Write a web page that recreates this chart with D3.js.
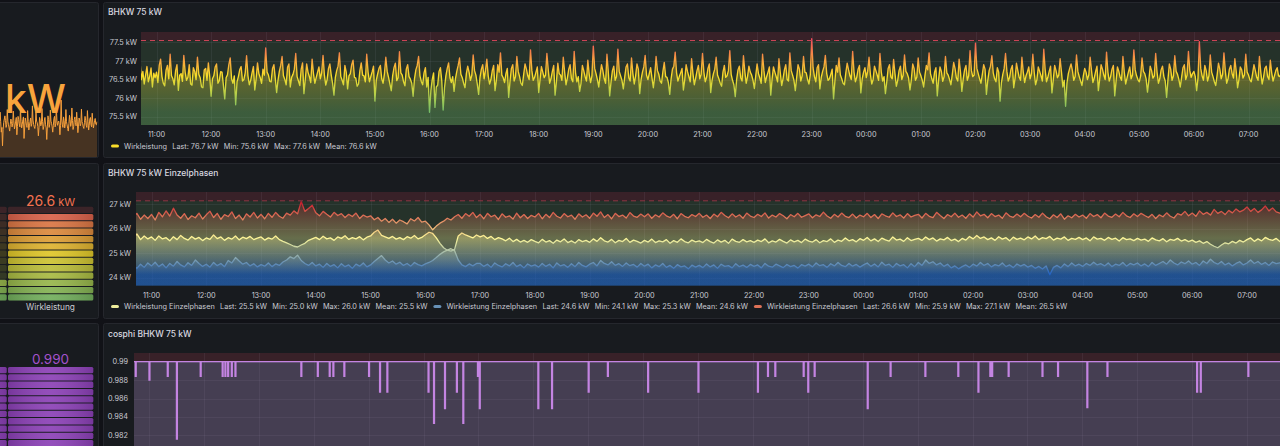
<!DOCTYPE html>
<html><head><meta charset="utf-8">
<script src="https://cdn.jsdelivr.net/npm/d3@7"></script>
<style>
html,body{margin:0;padding:0;background:#111217;overflow:hidden}
svg{display:block}
</style></head><body>
<svg id="c" width="1280" height="446"></svg>
<script>
// ---------------- DATA ----------------
const timeTicks = ["11:00","12:00","13:00","14:00","15:00","16:00","17:00","18:00","19:00","20:00","21:00","22:00","23:00","00:00","01:00","02:00","03:00","04:00","05:00","06:00","07:00"];

// Panel 1: BHKW 75 kW, Wirkleistung, samples every 1.5 min from 10:42
const p1Start = "10:42", p1StepMin = 1.5;
const p1Values = [
76.95,76.50,76.72,76.38,76.62,76.85,76.44,76.58,76.81,76.30,76.67,76.55,
76.70,76.42,76.88,77.05,76.58,76.40,76.33,76.75,76.88,76.52,77.18,76.60,76.52,76.36,76.74,76.90,76.21,76.62,76.66,76.45,
77.15,76.70,76.48,76.56,76.90,76.38,76.35,76.82,76.72,76.50,77.10,76.64,76.55,76.30,76.28,76.76,76.80,76.48,76.95,76.58,
76.05,76.52,76.60,76.84,76.92,76.40,76.47,76.71,76.70,76.35,75.98,76.55,76.63,76.90,77.08,76.52,76.40,76.60,75.82,76.44,
76.58,76.77,76.85,76.46,76.50,76.68,77.14,76.60,76.36,76.48,76.68,76.85,76.22,76.52,76.95,76.66,76.55,76.40,76.78,76.62,
77.35,76.70,76.62,76.45,76.44,76.80,76.90,76.54,76.15,76.48,76.72,76.88,77.12,76.60,76.50,76.36,76.83,76.92,76.30,76.56,
76.64,76.78,77.20,76.58,76.46,76.34,76.78,76.95,76.12,76.50,76.92,76.70,76.58,76.42,77.05,76.66,76.40,76.55,76.70,76.84,
76.52,76.68,77.15,76.62,76.35,76.50,76.80,76.92,76.62,76.40,76.08,76.55,76.74,76.86,77.22,76.58,76.48,76.36,76.88,76.70,
76.25,76.60,76.66,76.90,77.02,76.56,76.54,76.32,76.38,76.74,76.95,76.62,76.60,76.44,77.18,76.70,76.44,76.58,76.71,76.86,
75.92,76.48,76.65,76.80,76.88,76.52,76.40,76.66,77.10,76.72,76.56,76.38,76.20,76.60,76.82,76.94,76.47,76.55,77.25,76.68,
76.62,76.44,76.33,76.78,76.90,76.58,76.51,76.40,76.05,76.52,76.76,76.88,77.12,76.60,76.45,76.36,76.68,76.82,76.30,76.56,
75.62,76.20,76.50,76.68,75.75,76.30,76.35,76.72,76.82,76.46,75.68,76.28,76.60,76.80,76.95,76.55,76.42,76.58,76.18,76.52,
76.72,76.88,77.08,76.64,76.55,76.40,76.28,76.66,76.86,76.70,76.48,76.62,77.16,76.74,76.62,76.38,76.10,76.56,76.78,76.90,
76.52,76.74,77.05,76.60,76.38,76.50,76.74,76.88,76.20,76.48,76.90,76.70,77.22,76.62,76.55,76.42,76.66,76.80,76.02,76.46,
76.80,76.90,76.46,76.58,77.12,76.72,76.58,76.40,76.34,76.64,76.92,76.78,76.60,76.50,77.30,76.74,76.48,76.56,76.70,76.84,
76.15,76.50,76.85,76.70,76.55,76.62,77.20,76.76,76.40,76.52,76.72,76.88,76.08,76.44,76.94,76.66,76.62,76.48,77.10,76.70,
76.36,76.54,76.78,76.90,76.52,76.44,77.26,76.68,76.44,76.58,76.18,76.40,76.88,76.74,76.58,76.46,77.02,76.64,76.42,76.60,
77.40,76.80,76.66,76.50,76.30,76.62,76.90,76.74,76.52,76.40,77.18,76.70,76.06,76.44,76.74,76.86,76.48,76.58,77.32,76.72,
76.60,76.48,76.25,76.56,76.84,76.92,76.55,76.46,77.08,76.66,76.38,76.60,76.92,76.78,76.12,76.50,76.70,76.84,77.15,76.62,
76.50,76.66,76.82,76.54,76.28,76.60,77.12,76.74,76.64,76.46,76.40,76.72,76.96,76.58,76.56,76.42,76.10,76.52,76.78,76.86,
77.24,76.68,76.46,76.58,76.68,76.80,76.22,76.50,76.90,76.72,76.58,76.44,77.06,76.66,76.36,76.54,76.74,76.88,76.52,76.64,
77.20,76.70,76.44,76.56,76.80,76.92,76.15,76.48,76.66,76.78,77.10,76.62,76.52,76.40,76.32,76.70,76.88,76.56,76.60,76.74,
77.28,76.64,76.48,76.36,76.04,76.50,76.76,76.86,76.55,76.46,77.14,76.72,76.40,76.58,76.86,76.70,76.62,76.48,76.26,76.60,
76.92,76.66,76.54,76.40,77.18,76.74,76.42,76.58,76.70,76.84,76.08,76.52,76.84,76.70,76.58,76.44,77.06,76.68,76.34,76.52,
76.76,76.90,76.50,76.46,77.22,76.74,76.62,76.48,76.20,76.56,76.90,76.78,76.46,76.60,77.12,76.70,76.68,76.50,76.38,76.64,
77.60,76.82,76.58,76.44,76.82,76.90,76.25,76.56,76.72,76.84,77.15,76.66,76.48,76.52,76.64,76.78,75.98,76.46,76.88,76.70,
77.08,76.62,76.52,76.40,76.36,76.68,76.94,76.76,76.60,76.50,77.26,76.70,76.44,76.56,76.78,76.88,76.14,76.52,76.70,76.82,
76.55,76.72,77.10,76.64,76.38,76.50,76.86,76.74,76.62,76.48,77.20,76.70,76.46,76.58,76.12,76.44,76.80,76.90,76.57,76.52,
77.04,76.66,76.32,76.48,76.74,76.86,76.50,76.62,77.16,76.72,76.66,76.54,76.22,76.50,76.92,76.80,76.48,76.56,77.08,76.70,
76.60,76.48,76.30,76.62,76.88,76.76,77.22,76.66,76.52,76.40,76.70,76.82,76.06,76.50,76.84,76.72,76.45,76.58,77.12,76.68,
76.62,76.50,76.36,76.64,76.96,76.80,76.54,76.46,77.05,76.70,76.18,76.52,76.76,76.88,76.48,76.60,77.28,76.74,76.58,76.62,
77.48,76.80,76.66,76.52,76.40,76.64,76.90,76.78,76.10,76.48,76.74,76.86,77.14,76.68,76.52,76.44,76.82,76.70,75.92,76.42,
76.64,76.80,77.20,76.72,76.46,76.56,76.78,76.88,76.28,76.54,76.94,76.74,76.56,76.48,77.10,76.70,76.42,76.60,76.70,76.84,
76.52,76.66,77.18,76.70,76.36,76.50,76.84,76.72,76.60,76.46,77.32,76.78,76.44,76.56,76.72,76.86,76.14,76.50,76.88,76.74,
76.55,76.62,77.06,76.70,76.30,76.48,75.78,76.40,76.66,76.80,76.92,76.74,76.48,76.58,77.16,76.72,76.58,76.46,76.34,76.60,
76.80,76.70,76.50,76.62,77.10,76.74,76.42,76.54,76.72,76.86,76.20,76.52,76.90,76.78,76.62,76.50,77.24,76.70,76.46,76.58,
76.78,76.88,76.06,76.46,76.84,76.72,76.56,76.48,77.12,76.70,76.38,76.54,76.70,76.84,76.52,76.62,77.30,76.76,76.60,76.50,
76.44,76.60,77.08,76.72,76.66,76.52,76.16,76.48,76.86,76.74,76.54,76.60,77.20,76.70,76.40,76.52,76.76,76.86,76.58,76.46,
76.02,76.50,76.92,76.78,76.48,76.60,77.14,76.72,76.64,76.50,76.30,76.56,76.82,76.90,76.50,76.62,77.26,76.74,76.56,76.66,
76.72,76.58,76.20,76.54,77.52,76.80,76.60,76.48,76.88,76.74,76.46,76.60,77.16,76.70,76.58,76.44,76.34,76.62,76.94,76.78,
76.52,76.64,77.22,76.74,76.40,76.52,76.78,76.88,76.66,76.54,77.06,76.72,76.28,76.50,76.84,76.76,76.54,76.62,77.18,76.70,
76.62,76.50,76.44,76.66,76.90,76.74,76.56,76.48,77.12,76.70,76.38,76.56,76.80,76.86,76.58,76.50,77.02,76.68,76.46,76.60,
76.74,76.82,76.60,76.58,76.70];
const p1Names = ["Wirkleistung"];
const p1Last = [76.7], p1Min = [75.6], p1Max = [77.6], p1Mean = [76.6];
const p1YTicks = [75.5, 76, 76.5, 77, 77.5];
const p1Threshold = 77.55;

// Panel 2: BHKW 75 kW Einzelphasen, samples every 4 min from 10:40
const p2Start = "10:40", p2StepMin = 4;
const p2Yellow = [
25.62,25.78,25.55,25.70,25.58,
25.66,25.52,25.70,25.58,25.63,25.50,25.67,25.55,25.72,25.60,25.53,25.68,25.57,25.64,25.51,
25.62,25.56,25.74,25.59,25.66,25.52,25.63,25.57,25.70,25.54,25.65,25.59,25.68,25.55,25.61,
25.66,25.53,25.62,25.57,25.70,25.55,25.48,25.42,25.35,25.28,25.25,25.33,25.40,25.52,25.58,
25.64,25.55,25.69,25.58,25.62,25.52,25.66,25.60,25.71,25.56,25.63,25.58,25.67,25.54,25.65,
25.70,25.85,25.94,25.72,25.66,25.60,25.68,25.57,25.63,25.55,25.67,25.61,25.72,25.58,25.64,
25.75,25.85,25.80,25.62,25.40,25.22,25.12,25.08,25.15,25.70,25.82,25.74,25.68,25.62,25.74,
25.66,25.72,25.60,25.68,25.55,25.63,25.58,25.50,25.61,25.47,25.56,25.45,25.52,25.44,25.55,
25.48,25.42,25.56,25.45,25.51,25.40,25.53,25.46,25.58,25.43,25.50,25.41,25.55,25.47,25.52,
25.44,25.58,25.48,25.63,25.50,25.45,25.56,25.42,25.52,25.47,25.60,25.44,25.53,25.48,25.41,
25.52,25.45,25.57,25.43,25.50,25.46,25.55,25.40,25.51,25.44,25.58,25.47,25.42,25.53,25.46,
25.50,25.43,25.56,25.47,25.41,25.54,25.45,25.52,25.40,25.57,25.48,25.44,25.55,25.46,25.51,
25.44,25.53,25.47,25.58,25.42,25.50,25.45,25.56,25.48,25.41,25.54,25.46,25.52,25.43,25.57,
25.49,25.45,25.55,25.42,25.51,25.47,25.58,25.44,25.53,25.48,25.62,25.50,25.55,25.46,25.59,
25.52,25.64,25.50,25.58,25.47,25.61,25.54,25.49,25.66,25.53,25.57,25.48,25.63,25.51,25.56,
25.60,25.52,25.66,25.55,25.62,25.49,25.58,25.54,25.64,25.51,25.57,25.47,25.60,25.53,25.68,
25.58,25.72,25.60,25.66,25.55,25.62,25.52,25.67,25.57,25.63,25.50,25.65,25.56,25.61,25.54,
25.66,25.58,25.70,25.55,25.63,25.59,25.68,25.53,25.61,25.57,25.66,25.52,25.60,25.56,25.64,
25.55,25.62,25.50,25.66,25.57,25.60,25.52,25.64,25.56,25.61,25.49,25.63,25.55,25.58,25.51,
25.60,25.53,25.57,25.48,25.62,25.54,25.50,25.59,25.46,25.56,25.52,25.60,25.49,25.55,25.47,
25.53,25.44,25.50,25.40,25.47,25.36,25.28,25.22,25.33,25.42,25.38,25.48,25.41,25.52,25.45,
25.55,25.62,25.48,25.58,25.50,25.64,25.56,25.52,25.60,25.47,25.50];
const p2Blue = [
24.52,24.38,24.55,24.42,24.60,
24.48,24.63,24.45,24.56,24.40,24.58,24.47,24.66,24.52,24.44,24.61,24.50,24.72,24.58,24.46,
24.55,24.43,24.62,24.49,24.58,24.45,24.70,24.60,24.82,24.68,24.55,24.62,24.48,24.57,24.44,
24.53,24.47,24.60,24.45,24.56,24.50,24.64,24.72,24.85,24.78,24.92,24.70,24.58,24.50,24.62,
24.48,24.55,24.42,24.58,24.46,24.53,24.40,24.57,24.45,24.52,24.38,24.55,24.47,24.60,24.44,
24.52,24.66,24.78,24.90,24.72,24.60,24.68,24.55,24.63,24.50,24.58,24.47,24.62,24.53,24.48,
24.56,24.62,24.70,24.82,24.95,25.05,25.12,25.18,25.10,24.72,24.52,24.45,24.56,24.48,24.58,
24.58,24.46,24.55,24.42,24.60,24.50,24.44,24.57,24.48,24.62,24.45,24.53,24.40,24.56,24.47,
24.52,24.43,24.58,24.46,24.55,24.40,24.60,24.48,24.53,24.42,24.57,24.45,24.62,24.50,24.44,
24.55,24.62,24.48,24.70,24.58,24.52,24.65,24.50,24.57,24.46,24.60,24.49,24.54,24.43,24.58,
24.47,24.55,24.40,24.52,24.45,24.58,24.42,24.50,24.38,24.53,24.44,24.48,24.36,24.51,24.43,
24.50,24.41,24.56,24.44,24.52,24.38,24.55,24.46,24.49,24.40,24.57,24.45,24.51,24.42,24.54,
24.46,24.52,24.40,24.58,24.47,24.43,24.55,24.48,24.41,24.54,24.45,24.50,24.39,24.53,24.47,
24.55,24.44,24.60,24.49,24.53,24.42,24.57,24.48,24.62,24.50,24.45,24.58,24.47,24.54,24.43,
24.52,24.60,24.46,24.56,24.44,24.63,24.50,24.55,24.42,24.58,24.48,24.53,24.40,24.57,24.45,
24.62,24.50,24.72,24.58,24.65,24.52,24.60,24.46,24.55,24.40,24.48,24.36,24.45,24.52,24.42,
24.55,24.47,24.62,24.50,24.58,24.44,24.53,24.48,24.60,24.45,24.52,24.41,24.56,24.47,24.54,
24.43,24.50,24.38,24.46,24.35,24.48,24.12,24.42,24.50,24.40,24.56,24.45,24.60,24.48,24.55,
24.46,24.58,24.50,24.63,24.52,24.57,24.48,24.60,24.45,24.55,24.50,24.62,24.47,24.58,24.52,
24.60,24.48,24.56,24.45,24.62,24.50,24.58,24.66,24.55,24.72,24.60,24.52,24.64,24.57,24.68,
24.55,24.62,24.50,24.68,24.58,24.75,24.62,24.55,24.66,24.52,24.60,24.48,24.58,24.65,24.52,
24.60,24.72,24.58,24.66,24.54,24.62,24.50,24.64,24.57,24.60,24.62];
const p2Red = [
26.45,26.62,26.38,26.55,26.41,
26.58,26.35,26.66,26.48,26.72,26.51,26.83,26.55,26.42,26.61,26.37,26.52,26.44,26.63,26.39,
26.56,26.71,26.45,26.62,26.38,26.57,26.49,26.68,26.41,26.55,26.35,26.60,26.47,26.66,26.43,
26.58,26.40,26.62,26.46,26.66,26.50,26.42,26.63,26.55,26.72,26.60,27.10,26.70,26.82,26.95,
26.64,26.52,26.70,26.58,26.47,26.66,26.53,26.61,26.45,26.58,26.49,26.63,26.41,26.55,26.47,
26.52,26.36,26.45,26.30,26.41,26.25,26.38,26.22,26.35,26.28,26.19,26.40,26.31,26.45,26.26,
26.30,26.15,25.95,26.10,26.22,26.30,26.42,26.35,26.48,26.57,26.42,26.61,26.50,26.66,26.45,
26.58,26.40,26.62,26.48,26.55,26.37,26.60,26.46,26.52,26.39,26.63,26.44,26.57,26.41,26.54,
26.47,26.62,26.40,26.58,26.45,26.66,26.50,26.43,26.61,26.48,26.55,26.38,26.60,26.47,26.56,
26.42,26.63,26.50,26.68,26.45,26.57,26.40,26.62,26.49,26.55,26.43,26.65,26.51,26.46,26.59,
26.48,26.60,26.42,26.56,26.47,26.64,26.52,26.45,26.58,26.40,26.61,26.50,26.44,26.57,26.49,
26.62,26.46,26.55,26.41,26.59,26.48,26.66,26.53,26.44,26.60,26.47,26.56,26.42,26.63,26.51,
26.45,26.58,26.49,26.64,26.43,26.55,26.47,26.61,26.52,26.40,26.57,26.48,26.62,26.46,26.53,
26.60,26.44,26.56,26.49,26.67,26.51,26.42,26.58,26.47,26.63,26.50,26.45,26.59,26.43,26.55,
26.48,26.62,26.45,26.57,26.41,26.60,26.52,26.46,26.64,26.49,26.56,26.43,26.61,26.47,26.54,
26.58,26.43,26.62,26.50,26.45,26.66,26.53,26.41,26.57,26.48,26.63,26.46,26.55,26.42,26.60,
26.47,26.68,26.52,26.58,26.44,26.61,26.49,26.55,26.42,26.64,26.51,26.46,26.59,26.48,26.62,
26.50,26.43,26.57,26.46,26.63,26.48,26.40,26.56,26.45,26.60,26.38,26.52,26.44,26.58,26.47,
26.55,26.42,26.61,26.49,26.57,26.44,26.63,26.51,26.46,26.59,26.48,26.66,26.52,26.45,26.60,
26.49,26.62,26.53,26.45,26.58,26.41,26.56,26.48,26.64,26.50,26.43,26.61,26.55,26.70,26.52,
26.63,26.50,26.72,26.58,26.66,26.55,26.78,26.62,26.70,26.57,26.74,26.64,26.80,26.68,26.75,
26.88,26.70,26.82,26.66,26.76,26.92,26.72,26.84,26.68,26.63,26.60];
const p2Names = ["Wirkleistung Einzelphasen","Wirkleistung Einzelphasen","Wirkleistung Einzelphasen"];
const p2Last = [25.5, 24.6, 26.6], p2Min = [25.0, 24.1, 25.9], p2Max = [26.0, 25.3, 27.1], p2Mean = [25.5, 24.6, 26.5];
const p2YTicks = [24, 25, 26, 27];
const p2Threshold = 27.13;

// Panel 3: cosphi, base value with short dips
const p3Base = 0.99;
const p3DipTimes = ["10:45","11:00","11:20","11:30","11:56","12:20","12:23","12:26","12:30","12:34","13:46","14:04","14:17","14:21","14:33","15:00","15:12","15:20","16:05","16:11","16:23","16:36","16:43","16:59","17:01","18:05","18:20","19:00","19:21","20:05","21:00","22:05","22:16","22:24","22:55","23:00","23:07","00:05","00:30","01:08","01:44","02:06","02:19","02:21","02:39","03:16","03:33","04:05","04:27","06:05","06:09","07:01"];
const p3DipValues = [0.9884,0.9880,0.9884,0.9816,0.9884,0.9884,0.9884,0.9884,0.9884,0.9884,0.9884,0.9884,0.9884,0.9884,0.9884,0.9884,0.9867,0.9867,0.9867,0.9833,0.9849,0.9867,0.9833,0.9884,0.9849,0.9849,0.9849,0.9867,0.9884,0.9867,0.9867,0.9867,0.9884,0.9884,0.9884,0.9867,0.9884,0.9849,0.9884,0.9884,0.9884,0.9867,0.9884,0.9884,0.9884,0.9884,0.9884,0.9850,0.9884,0.9867,0.9867,0.9884];
const p3YTicks = [0.982, 0.984, 0.986, 0.988, 0.99];

// Left column bar gauges
const g2Values = [24.6, 26.6], g2Min = 24, g2Max = 27, g2Label = "Wirkleistung";
const g3Values = [0.99, 0.99], g3Min = 0, g3Max = 1;

// ---------------- HELPERS ----------------
const FONT = 'Inter, "Noto Sans", "DejaVu Sans", sans-serif';
const TXT = '#c9cad2';
const AXF = 7.3, LGF = 7.3, TTF = 8.5;
const svg = d3.select('#c').attr('font-family', FONT);
const defs = svg.append('defs');

const tm = s => { const [h, m] = s.split(':').map(Number); return new Date(2024, 0, h < 10 ? 2 : 1, h, m); };
const times = (start, step, n) => { const t0 = tm(start).getTime(); return d3.range(n).map(i => new Date(t0 + i * step * 60000)); };
const GrYlRd = d3.scaleLinear().domain([0, 0.5, 1]).range(["#73BF69", "#FADE2A", "#F2495C"]);
const BlYlRd = d3.scaleLinear().domain([0, 0.5, 1]).range(["#1F60C4", "#FFF899", "#C4162A"]);

function panel(x, y, w, h) {
  svg.append('rect').attr('x', x + 0.5).attr('y', y + 0.5).attr('width', w).attr('height', h)
    .attr('rx', 2).attr('fill', '#181b1f').attr('stroke', '#25272d');
}
function clip(id, x, y, w, h) {
  defs.append('clipPath').attr('id', id).append('rect').attr('x', x).attr('y', y).attr('width', w).attr('height', h);
  return `url(#${id})`;
}
function vGradient(id, y, vmin, vmax, scheme, opacity) {
  const g = defs.append('linearGradient').attr('id', id).attr('gradientUnits', 'userSpaceOnUse')
    .attr('x1', 0).attr('x2', 0).attr('y1', y(vmin)).attr('y2', y(vmax));
  for (let k = 0; k <= 10; k++) g.append('stop').attr('offset', k / 10).attr('stop-color', scheme(k / 10)).attr('stop-opacity', opacity);
  return `url(#${id})`;
}
function title(text, x, y) {
  svg.append('text').attr('x', x).attr('y', y).attr('dy', '0.35em').attr('font-size', TTF)
    .attr('font-weight', 500).attr('fill', '#d8d9e0').text(text);
}
function plotFrame(o) {
  const cp = clip(o.id + 'c', o.left, o.top, o.right - o.left, o.bottom - o.top);
  const g = svg.append('g').attr('clip-path', cp);
  const ty = o.y(o.thr);
  g.append('rect').attr('x', o.left).attr('y', o.top).attr('width', o.right - o.left).attr('height', ty - o.top).attr('fill', o.above);
  g.append('rect').attr('x', o.left).attr('y', ty).attr('width', o.right - o.left).attr('height', o.bottom - ty).attr('fill', o.below);
  const grid = g.append('g').attr('stroke', 'rgba(204,204,220,0.07)').attr('stroke-width', 1);
  o.yTicks.forEach(v => grid.append('line').attr('x1', o.left).attr('x2', o.right).attr('y1', Math.round(o.y(v)) + 0.5).attr('y2', Math.round(o.y(v)) + 0.5));
  timeTicks.forEach(t => grid.append('line').attr('x1', Math.round(o.x(tm(t))) + 0.5).attr('x2', Math.round(o.x(tm(t))) + 0.5).attr('y1', o.top).attr('y2', o.bottom));
  const ya = svg.append('g').attr('font-size', AXF).attr('fill', TXT).attr('text-anchor', 'end');
  o.yTicks.forEach(v => ya.append('text').attr('x', o.yLabelX).attr('y', o.y(v)).attr('dy', '0.35em').text(o.fmt(v)));
  if (o.xLabelY) {
    const xa = svg.append('g').attr('font-size', AXF).attr('fill', TXT).attr('text-anchor', 'middle');
    timeTicks.forEach(t => xa.append('text').attr('x', o.x(tm(t))).attr('y', o.xLabelY).attr('dy', '0.35em').text(t));
  }
  return g;
}
function legend(x, y, entries) {
  let cx = x;
  const lg = svg.append('g').attr('font-size', LGF).attr('fill', TXT);
  entries.forEach((e, k) => {
    if (k > 0) cx += 6;
    lg.append('rect').attr('x', cx).attr('y', y - 1.6).attr('width', 8).attr('height', 3.2).attr('rx', 1.6).attr('fill', e.color);
    cx += 13;
    e.parts.forEach((p, j) => {
      const t = lg.append('text').attr('x', cx).attr('y', y).attr('dy', '0.35em').text(p);
      cx += t.node().getComputedTextLength();
      if (j < e.parts.length - 1) cx += 5.3;
    });
  });
}
const kw = v => v.toFixed(1) + ' kW';
function legendParts(names, last, mn, mx, mean) {
  return names.map((n, i) => [n, 'Last: ' + kw(last[i]), 'Min: ' + kw(mn[i]), 'Max: ' + kw(mx[i]), 'Mean: ' + kw(mean[i])]);
}

// ---------------- PANELS (background) ----------------
panel(-3, 2, 101, 155);
panel(103, 2, 1190, 155);
panel(-3, 163, 101, 155);
panel(103, 163, 1190, 155);
panel(-3, 323, 101, 160);
panel(103, 323, 1190, 160);

// ---------------- PANEL 1 ----------------
{
  const t = times(p1Start, p1StepMin, p1Values.length);
  const data = p1Values.map((v, i) => ({ t: t[i], v }));
  const x = d3.scaleTime().domain([tm("11:00"), tm("07:00")]).range([156.5, 1248.5]);
  const y = d3.scaleLinear().domain([75.5, 77.5]).range([116.7, 42.4]);
  const o = { id: 'p1', left: 141, right: 1280, top: 32, bottom: 125, x, y, thr: p1Threshold,
    above: 'rgba(242,73,92,0.15)', below: 'rgba(115,191,105,0.15)', yTicks: p1YTicks,
    fmt: v => v + ' kW', yLabelX: 137, xLabelY: 134 };
  title('BHKW 75 kW', 108, 12);
  const g = plotFrame(o);
  const [vmin, vmax] = d3.extent(p1Values);
  const fill = vGradient('p1f', y, vmin, vmax, GrYlRd, 0.3);
  const stroke = vGradient('p1s', y, vmin, vmax, GrYlRd, 1);
  g.append('path').datum(data).attr('fill', fill)
    .attr('d', d3.area().x(d => x(d.t)).y0(o.bottom).y1(d => y(d.v)));
  g.append('path').datum(data).attr('fill', 'none').attr('stroke', stroke).attr('stroke-width', 1.35).attr('stroke-linejoin', 'round')
    .attr('d', d3.line().x(d => x(d.t)).y(d => y(d.v)));
  g.append('line').attr('x1', o.left).attr('x2', o.right).attr('y1', y(p1Threshold)).attr('y2', y(p1Threshold))
    .attr('stroke', '#cf4658').attr('stroke-width', 1).attr('stroke-dasharray', '5,4');
  legend(111, 146, legendParts(p1Names, p1Last, p1Min, p1Max, p1Mean).map(parts => ({ color: GrYlRd(0.5), parts })));

  // stat panel sparkline (left)
  const sc = clip('s1c', 0, 2.5, 97.5, 154.5);
  const sg = svg.append('g').attr('clip-path', sc);
  const sx = d3.scaleTime().domain(d3.extent(t)).range([-403, 97]);
  const sy = d3.scaleLinear().domain([vmin, vmax]).range([150, 98]);
  sg.append('path').datum(data).attr('fill', 'rgba(255,152,48,0.2)')
    .attr('d', d3.area().x(d => sx(d.t)).y0(157).y1(d => sy(d.v)));
  sg.append('path').datum(data).attr('fill', 'none').attr('stroke', '#f7a03c').attr('stroke-width', 1)
    .attr('d', d3.line().x(d => sx(d.t)).y(d => sy(d.v)));
  svg.append('text').attr('x', 5).attr('y', 113).attr('text-anchor', 'start').attr('font-size', 39)
    .attr('font-weight', 500).attr('fill', '#f8a43c').text('kW');
}

// ---------------- PANEL 2 ----------------
{
  const t = times(p2Start, p2StepMin, p2Red.length);
  const x = d3.scaleTime().domain([tm("11:00"), tm("07:00")]).range([151.5, 1247]);
  const y = d3.scaleLinear().domain([24, 27]).range([277.7, 204]);
  const o = { id: 'p2', left: 136, right: 1280, top: 192, bottom: 285.7, x, y, thr: p2Threshold,
    above: 'rgba(242,73,92,0.15)', below: 'rgba(115,191,105,0.15)', yTicks: p2YTicks,
    fmt: v => v + ' kW', yLabelX: 131, xLabelY: 295 };
  title('BHKW 75 kW Einzelphasen', 108, 173);
  const g = plotFrame(o);
  const all = p2Yellow.concat(p2Blue, p2Red);
  const [vmin, vmax] = d3.extent(all);
  const fill = vGradient('p2f', y, vmin, vmax, BlYlRd, 0.3);
  const stroke = vGradient('p2s', y, vmin, vmax, BlYlRd, 1);
  const series = [p2Yellow, p2Blue, p2Red].map(arr => arr.map((v, i) => ({ t: t[i], v })));
  series.forEach(d => g.append('path').datum(d).attr('fill', fill)
    .attr('d', d3.area().x(p => x(p.t)).y0(o.bottom).y1(p => y(p.v))));
  series.forEach(d => g.append('path').datum(d).attr('fill', 'none').attr('stroke', stroke).attr('stroke-width', 1.3)
    .attr('stroke-linejoin', 'round').attr('d', d3.line().x(p => x(p.t)).y(p => y(p.v))));
  g.append('line').attr('x1', o.left).attr('x2', o.right).attr('y1', y(p2Threshold)).attr('y2', y(p2Threshold))
    .attr('stroke', '#8e3644').attr('stroke-width', 1).attr('stroke-dasharray', '5,4');
  const norm = v => (v - vmin) / (vmax - vmin);
  legend(111, 306.5, legendParts(p2Names, p2Last, p2Min, p2Max, p2Mean).map((parts, i) => ({ color: BlYlRd(norm(p2Mean[i])), parts })));
}

// ---------------- PANEL 3 ----------------
{
  const x = d3.scaleTime().domain([tm("11:00"), tm("07:00")]).range([149, 1247]);
  const y = d3.scaleLinear().domain([0.982, 0.99]).range([435.3, 361.7]);
  const o = { id: 'p3', left: 134, right: 1280, top: 353, bottom: 483, x, y, thr: p3Base,
    above: 'rgba(242,73,92,0.15)', below: 'rgba(204,204,220,0.15)', yTicks: p3YTicks,
    fmt: v => String(v), yLabelX: 128, xLabelY: null };
  title('cosphi BHKW 75 kW', 108, 334);
  const g = plotFrame(o);
  const pts = [{ t: tm("10:40"), v: p3Base }];
  p3DipTimes.forEach((s, i) => {
    const d = tm(s);
    pts.push({ t: d, v: p3DipValues[i] });
    pts.push({ t: new Date(d.getTime() + 60000), v: p3Base });
  });
  pts.push({ t: tm("07:40"), v: p3Base });
  g.append('path').datum(pts).attr('fill', 'rgba(184,119,217,0.15)')
    .attr('d', d3.area().curve(d3.curveStepAfter).x(d => x(d.t)).y0(o.bottom).y1(d => y(d.v)));
  g.append('path').datum(pts).attr('fill', 'none').attr('stroke', '#c484e2').attr('stroke-width', 1.3)
    .attr('d', d3.line().curve(d3.curveStepAfter).x(d => x(d.t)).y(d => y(d.v)));
}

// ---------------- LEFT GAUGES ----------------
function lcd(cp, cols, top, pitch, h, n, min, max, values, colorFn) {
  const g = svg.append('g').attr('clip-path', cp);
  const step = (max - min) / n;
  cols.forEach((c, ci) => {
    for (let i = 0; i < n; i++) {
      const col = colorFn((i + 0.5) / n);
      const lit = min + i * step < values[ci];
      const yy = top + (n - 1 - i) * pitch;
      g.append('rect').attr('x', c[0]).attr('y', yy).attr('width', c[1] - c[0]).attr('height', h).attr('rx', 1.5)
        .attr('fill', col).attr('fill-opacity', lit ? 0.88 : 0.17);
      if (lit) g.append('rect').attr('x', c[0]).attr('y', yy).attr('width', c[1] - c[0]).attr('height', h).attr('rx', 1.5)
        .attr('fill', 'url(#glow)');
    }
  });
}
{
  const gl = defs.append('linearGradient').attr('id', 'glow').attr('x1', 0).attr('x2', 1).attr('y1', 0).attr('y2', 0);
  gl.append('stop').attr('offset', 0).attr('stop-color', '#000').attr('stop-opacity', 0.15);
  gl.append('stop').attr('offset', 0.5).attr('stop-color', '#fff').attr('stop-opacity', 0.08);
  gl.append('stop').attr('offset', 1).attr('stop-color', '#000').attr('stop-opacity', 0.15);

  const cp2 = clip('g2c', 0, 164, 97.5, 153);
  lcd(cp2, [[-80, 6.7], [8, 93.3]], 206.7, 7.3, 6.3, 13, g2Min, g2Max, g2Values, GrYlRd);
  const v = g2Values[1];
  const t2 = svg.append('text').attr('x', 50.5).attr('y', 205.5).attr('text-anchor', 'middle')
    .attr('fill', GrYlRd((v - g2Min) / (g2Max - g2Min)));
  t2.append('tspan').attr('font-size', 14).text(v.toFixed(1));
  t2.append('tspan').attr('font-size', 11).text(' kW');
  svg.append('text').attr('x', 50.5).attr('y', 306.7).attr('dy', '0.35em').attr('text-anchor', 'middle')
    .attr('font-size', 8.3).attr('fill', TXT).text(g2Label);

  const cp3 = clip('g3c', 0, 324, 97.5, 130);
  lcd(cp3, [[-80, 6.7], [8, 93.3]], 367, 7.3, 6.3, 14, g3Min, g3Max, g3Values, () => '#9b45cc');
  svg.append('text').attr('x', 50.5).attr('y', 364.3).attr('text-anchor', 'middle').attr('font-size', 13.5)
    .attr('fill', '#A352CC').text(g3Values[1].toFixed(3));
}
</script>
</body></html>
